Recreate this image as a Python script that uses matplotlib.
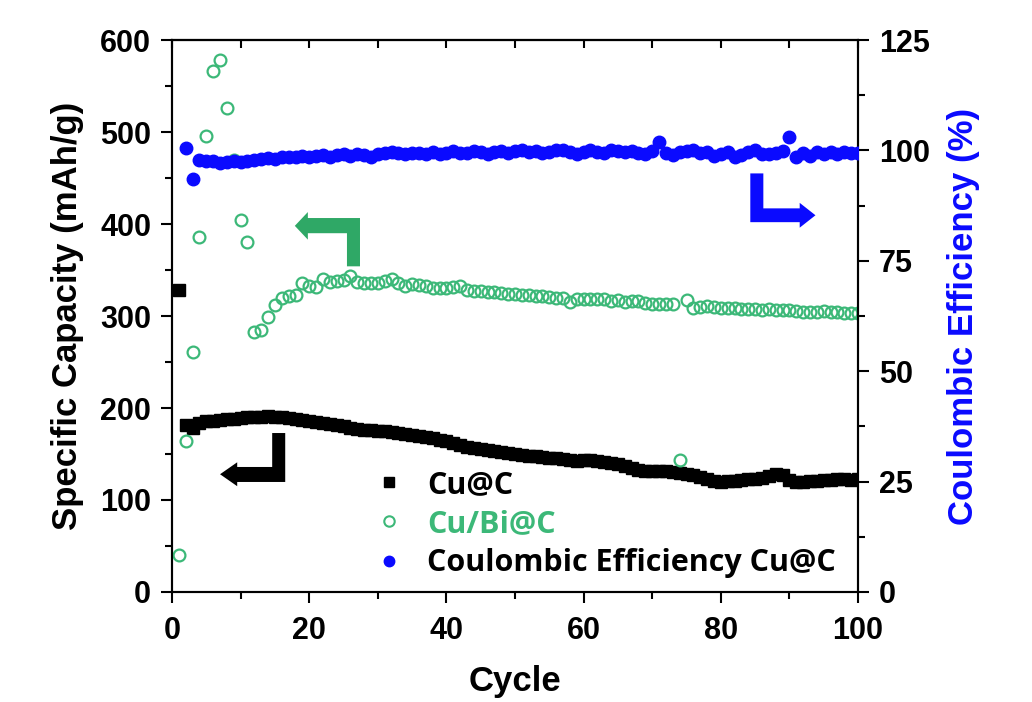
import numpy as np
import matplotlib
matplotlib.use("Agg")
import matplotlib.pyplot as plt
from matplotlib.lines import Line2D
from matplotlib.patches import Polygon
from matplotlib.ticker import MultipleLocator

# ---- data ----
cycles = list(range(1, 101))

cu_c = [328, 181, 178, 184, 186, 186, 187, 188, 188, 189,
        190, 190, 190, 191, 190, 190, 189, 188, 187, 186,
        185, 184, 183, 182, 180, 178, 177, 176, 176, 175,
        175, 174, 173, 172, 171, 170, 168, 167, 165, 164,
        162, 160, 158, 157, 155, 154, 153, 152, 151, 150,
        149, 148, 148, 147, 146, 146, 145, 143, 142, 143,
        144, 142, 141, 140, 139, 137, 135, 133, 132, 132,
        132, 131, 130, 129, 128, 127, 125, 123, 121, 120,
        121, 121, 122, 123, 123, 124, 126, 128, 127, 122,
        120, 120, 121, 121, 122, 122, 123, 123, 122, 123]

cu_bi_c = [40, 164, 261, 386, 496, 566, 578, 526, 470, 404,
           380, 283, 285, 299, 312, 320, 322, 323, 336, 333,
           332, 340, 337, 338, 339, 344, 337, 336, 336, 336,
           338, 340, 336, 333, 335, 334, 333, 330, 330, 330,
           331, 333, 328, 327, 327, 326, 326, 325, 324, 324,
           323, 323, 322, 322, 321, 320, 320, 315, 318, 319,
           319, 318, 318, 316, 317, 315, 316, 316, 314, 313,
           313, 313, 313, 144, 317, 309, 310, 311, 310, 309,
           309, 309, 308, 308, 308, 307, 308, 307, 306, 306,
           305, 304, 304, 304, 305, 304, 304, 303, 303, 303]

# coulombic efficiency starts at cycle 2 (cycles 2..100)
ce_cycles = cycles[1:]
ce_cu_c = [100.6, 93.5, 97.8, 97.6, 97.5, 97.2, 97.4, 97.6, 97.3,          # 2-10
           97.7, 97.9, 98.0, 98.2, 98.1, 98.4, 98.6, 98.5, 98.8, 98.6,    # 11-20
           98.7, 98.9, 98.5, 99.0, 99.1, 98.7, 99.2, 98.9, 98.5, 99.1,    # 21-30
           99.5, 99.6, 99.4, 99.3, 99.5, 99.4, 99.3, 99.6, 99.3, 99.5,    # 31-40
           99.8, 99.5, 99.4, 99.8, 99.6, 99.3, 99.7, 99.9, 99.5, 99.8,    # 41-50
           100.1, 99.6, 99.9, 99.5, 99.7, 100.2, 100.0, 99.6, 99.2, 99.6,  # 51-60
           100.0, 99.7, 99.5, 100.1, 99.8, 99.6, 99.9, 99.4, 99.3, 99.8,  # 61-70
           102.0, 99.5, 99.0, 99.6, 99.9, 100.0, 99.4, 99.7, 98.8, 99.2,  # 71-80
           99.6, 98.6, 99.0, 99.7, 100.0, 99.3, 99.1, 99.5, 99.9, 103.0,  # 81-90
           98.6, 99.4, 98.8, 99.6, 99.3, 99.7, 99.2, 99.6, 99.5, 99.4]    # 91-100

x_ticks = [0, 20, 40, 60, 80, 100]
cap_ticks = [0, 100, 200, 300, 400, 500, 600]
ce_ticks = [0, 25, 50, 75, 100, 125]

black = "#000000"
green = "#3cb878"
arrow_green = "#2fa866"
blue = "#0a0aff"

# L-shaped pointer arrows (left-axis data coords)
green_arrow = [(17.9, 398), (19.8, 413), (19.8, 406.5), (27.4, 406.5), (27.4, 354),
               (25.5, 354), (25.5, 390), (19.8, 390), (19.8, 383)]
black_arrow = [(7.0, 128), (9.5, 141), (9.5, 135.9), (14.6, 135.9), (14.6, 172.8),
               (16.5, 172.8), (16.5, 119.6), (9.5, 119.6), (9.5, 115)]
blue_arrow = [(84.3, 455), (86.2, 455), (86.2, 417), (91.5, 417), (91.5, 423),
              (93.8, 409.5), (91.5, 396), (91.5, 402), (84.3, 402)]

tick_font = dict(family="Liberation Sans", weight="bold", size=22)

fig = plt.figure(figsize=(10.32, 7.02), dpi=100)
ax = fig.add_axes([0.1667, 0.1567, 0.6647, 0.7863])
ax2 = ax.twinx()

ax.plot(cycles, cu_c, ls="none", marker="s", ms=8, color=black, zorder=3)
ax.plot(cycles, cu_bi_c, ls="none", marker="o", ms=8.5, mfc="none", mec=green,
        mew=1.6, zorder=4)
ax2.plot(ce_cycles, ce_cu_c, ls="none", marker="o", ms=9, color=blue, zorder=5)

ax.set_xlim(0, 100)
ax.set_ylim(0, 600)
ax2.set_ylim(0, 125)

ax.set_xticks(x_ticks)
ax.set_yticks(cap_ticks)
ax2.set_yticks(ce_ticks)
ax.xaxis.set_minor_locator(MultipleLocator(10))
ax.yaxis.set_minor_locator(MultipleLocator(50))
ax2.yaxis.set_minor_locator(MultipleLocator(12.5))

for a in (ax, ax2):
    for s in a.spines.values():
        s.set_linewidth(1.5)
ax.tick_params(axis="both", which="major", direction="out", length=8, width=1.5, pad=7)
ax.tick_params(axis="both", which="minor", direction="out", length=5, width=1.5)
ax.tick_params(axis="x", pad=9)
ax2.tick_params(axis="y", which="major", direction="out", length=8, width=1.5, pad=7)
ax2.tick_params(axis="y", which="minor", direction="out", length=5, width=1.5)

# top ticks point inward
top = ax.secondary_xaxis("top")
top.set_xticks(x_ticks)
top.xaxis.set_minor_locator(MultipleLocator(10))
top.tick_params(which="both", direction="in", length=6, width=1.5, labeltop=False)
top.spines["top"].set_linewidth(1.5)

for lab in ax.get_xticklabels() + ax.get_yticklabels() + ax2.get_yticklabels():
    lab.set_fontproperties(tick_font)

ax.set_xlabel("Cycle", family="Liberation Sans", weight="bold", size=25, labelpad=14)
ax.set_ylabel("Specific Capacity (mAh/g)", family="Liberation Sans", weight="bold",
              size=25, labelpad=12)
ax2.set_ylabel("Coulombic Efficiency (%)", family="Liberation Sans", weight="bold",
               size=25, color=blue, labelpad=12)

for pts, col in ((green_arrow, arrow_green), (black_arrow, black), (blue_arrow, blue)):
    ax.add_patch(Polygon(pts, closed=True, facecolor=col, edgecolor="none", zorder=6))

handles = [
    Line2D([], [], ls="none", marker="s", ms=7, color=black),
    Line2D([], [], ls="none", marker="o", ms=7.5, mfc="none", mec=green, mew=1.5),
    Line2D([], [], ls="none", marker="o", ms=7.5, color=blue),
]
labels = ["Cu@C", "Cu/Bi@C", "Coulombic Efficiency Cu@C"]
leg = ax2.legend(handles, labels, loc="lower left", bbox_to_anchor=(0.245, -0.025),
                 frameon=False, handletextpad=0.55, labelspacing=0.3, handlelength=1.4,
                 prop=dict(family="Open Sans", weight="bold", size=22))
for txt, col in zip(leg.get_texts(), [black, green, black]):
    txt.set_color(col)

fig.savefig("out.png", dpi=100)
